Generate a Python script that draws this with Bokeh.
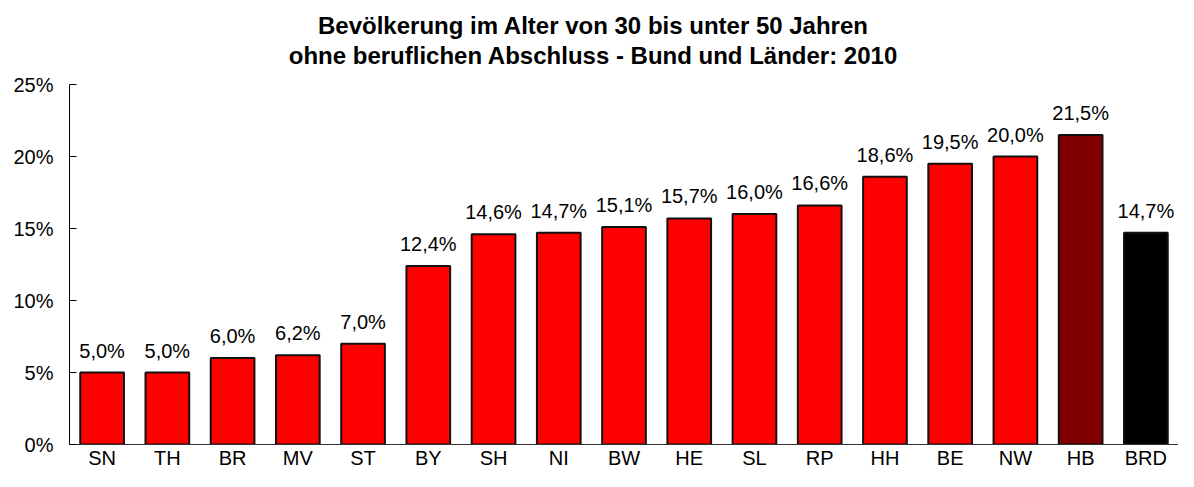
from bokeh.plotting import figure
from bokeh.models import ColumnDataSource, Range1d, FixedTicker, LabelSet, Div
from bokeh.layouts import column
from bokeh.core.properties import value
from bokeh.embed import file_html
from bokeh.resources import INLINE

# ---- data ----
categories = ["SN", "TH", "BR", "MV", "ST", "BY", "SH", "NI", "BW", "HE",
              "SL", "RP", "HH", "BE", "NW", "HB", "BRD"]
values = [5.0, 5.0, 6.0, 6.2, 7.0, 12.4, 14.6, 14.7, 15.1, 15.7,
          16.0, 16.6, 18.6, 19.5, 20.0, 21.5, 14.7]
bar_colors = ["#FF0000"] * 15 + ["#800000", "#000000"]
y_ticks = [0, 5, 10, 15, 20, 25]
y_tick_labels = ["0%", "5%", "10%", "15%", "20%", "25%"]
title_lines = ["Bevölkerung im Alter von 30 bis unter 50 Jahren",
               "ohne beruflichen Abschluss - Bund und Länder: 2010"]

labels = [f"{v:.1f}".replace(".", ",") + "%" for v in values]
source = ColumnDataSource(dict(cat=categories, val=values, color=bar_colors, lab=labels))

FONT = "Liberation Sans"

# ---- title block ----
title = Div(text="<br>".join(title_lines), width=1170, height=59, margin=(11, 0, 0, 8),
            styles={"font-family": FONT, "font-size": "24px", "font-weight": "bold",
                    "line-height": "30px", "text-align": "center", "color": "#000000",
                    "width": "1170px"})

# ---- chart ----
p = figure(x_range=categories, y_range=Range1d(0, 25), width=1178, height=401,
           output_backend="svg", toolbar_location=None, margin=(0, 0, 0, 0),
           min_border_left=69, min_border_right=0, min_border_top=14, min_border_bottom=25)
p.outline_line_color = None
p.xgrid.grid_line_color = None
p.ygrid.grid_line_color = None
p.x_range.range_padding = 0

p.vbar(x="cat", top="val", width=0.67, source=source, fill_color="color",
       line_color="#111111", line_width=2)

ls = LabelSet(x="cat", y="val", text="lab", source=source, text_align="center",
              text_baseline="alphabetic", y_offset=15, text_font=value(FONT),
              text_font_size=value("20px"), text_color=value("#000000"))
p.add_layout(ls)

# y axis
yax = p.yaxis[0]
yax.ticker = FixedTicker(ticks=y_ticks)
yax.major_label_overrides = {t: l for t, l in zip(y_ticks, y_tick_labels)}
yax.major_tick_in = 7
yax.major_tick_out = 0
yax.minor_tick_in = 0
yax.minor_tick_out = 0
yax.major_label_standoff = 16
yax.major_label_text_font = FONT
yax.major_label_text_font_size = "20px"
yax.major_label_text_color = "#000000"
yax.axis_line_color = "#000000"
yax.major_tick_line_color = "#000000"

# x axis
xax = p.xaxis[0]
xax.major_tick_in = 0
xax.major_tick_out = 0
xax.minor_tick_line_color = None
xax.major_label_standoff = 2
xax.major_label_text_font = FONT
xax.major_label_text_font_size = "20px"
xax.major_label_text_color = "#000000"
xax.axis_line_color = "#333333"

layout = column(title, p, spacing=0)

open("out.html", "w").write(file_html(layout, INLINE))
